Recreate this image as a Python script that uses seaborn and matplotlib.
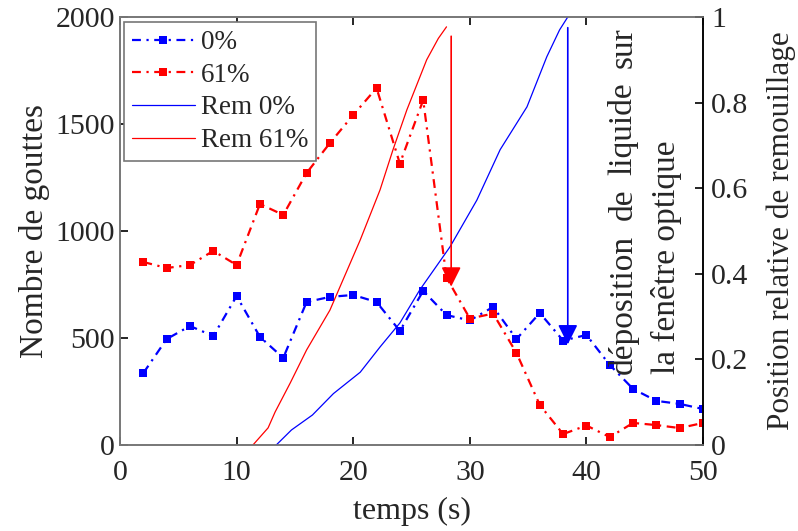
import numpy as np
import pandas as pd
import seaborn as sns
import matplotlib
matplotlib.use("Agg")
import matplotlib.pyplot as plt

# data
temps = [2, 4, 6, 8, 10, 12, 14, 16, 18, 20, 22, 24, 26, 28, 30, 32, 34, 36, 38, 40, 42, 44, 46, 48, 50]
gouttes_0 = [336, 495, 556, 509, 696, 505, 407, 668, 692, 701, 668, 533, 720, 607, 582, 645, 495, 617, 488, 514, 374, 262, 206, 192, 168]
gouttes_61 = [855, 827, 841, 907, 841, 1126, 1075, 1271, 1411, 1542, 1668, 1315, 1612, 782, 591, 614, 430, 187, 51, 91, 37, 103, 93, 79, 103]

rem0_t = [13.4, 14.7, 16.5, 18.3, 20.6, 22.3, 24.0, 25.7, 28.3, 30.6, 32.6, 34.9, 36.6, 37.7, 38.4]
rem0_pos = [0.0, 0.035, 0.07, 0.12, 0.17, 0.229, 0.285, 0.362, 0.463, 0.572, 0.69, 0.79, 0.907, 0.97, 1.0]
rem61_t = [11.4, 12.7, 13.3, 14.6, 16.0, 18.0, 20.6, 22.3, 23.4, 24.6, 26.3, 27.3, 28.0]
rem61_pos = [0.0, 0.04, 0.077, 0.145, 0.222, 0.315, 0.479, 0.596, 0.689, 0.783, 0.90, 0.95, 0.977]

# arrows: time, start (right axis), end (right axis)
arrow_0 = (38.4, 0.975, 0.235)
arrow_61 = (28.4, 0.955, 0.37)

note_line1 = ["déposition", "de", "liquide", "sur"]
note_line2 = "la fenêtre optique"

sns.set_theme(style="ticks")
plt.rcParams['font.family'] = ['Liberation Serif', 'DejaVu Serif']
plt.rcParams['xtick.direction'] = 'in'
plt.rcParams['ytick.direction'] = 'in'

fig = plt.figure(figsize=(7.98, 5.31), dpi=100)
ax = fig.add_axes([0.1504, 0.162, 0.7306, 0.806])
ax2 = ax.twinx()

dash = (4, 2.5, 1, 2.5)
df = pd.DataFrame({"t": temps, "g0": gouttes_0, "g61": gouttes_61})
sns.lineplot(data=df, x="t", y="g0", ax=ax, color="blue", marker="s", markersize=6,
             markeredgewidth=0, lw=1.6, dashes=False, label="0%")
sns.lineplot(data=df, x="t", y="g61", ax=ax, color="red", marker="s", markersize=6,
             markeredgewidth=0, lw=1.6, dashes=False, label="61%")
for ln in ax.lines:
    ln.set_dashes(dash)

sns.lineplot(x=rem0_t, y=rem0_pos, ax=ax2, color="blue", lw=0.9, label="Rem 0%", sort=False)
sns.lineplot(x=rem61_t, y=rem61_pos, ax=ax2, color="red", lw=0.9, label="Rem 61%", sort=False)

for (tx, y0, y1), c in [(arrow_61, "red"), (arrow_0, "blue")]:
    ax2.annotate("", xy=(tx, y1), xytext=(tx, y0),
                 arrowprops=dict(arrowstyle="-|>,head_length=0.6,head_width=0.3",
                                 color=c, lw=1.2, mutation_scale=20, shrinkA=0, shrinkB=0))

ax.set_xlim(0, 50)
ax.set_ylim(0, 2000)
ax2.set_ylim(0, 1)
ax.set_xticks([0, 10, 20, 30, 40, 50])
ax.set_yticks([0, 500, 1000, 1500, 2000])
ax2.set_yticks([0, 0.2, 0.4, 0.6, 0.8, 1])
ax2.set_yticklabels(["0", "0.2", "0.4", "0.6", "0.8", "1"])

ax.tick_params(axis="both", labelsize=21.5, length=6, width=1.2, color="black", top=True)
ax.tick_params(axis="x", pad=11)
ax2.tick_params(axis="y", labelsize=21.5, length=6, width=1.2, color="black", pad=6)
ax.set_xlabel("temps (s)", fontsize=23, labelpad=8)
ax.set_ylabel("Nombre de gouttes", fontsize=24, labelpad=4)
ax2.set_ylabel("Position relative de remouillage", fontsize=22.5, labelpad=13)

for sp in ["left", "bottom", "top"]:
    ax.spines[sp].set_color("#777777")
    ax2.spines[sp].set_color("#777777")
ax2.spines["right"].set_color("black")
for sp in ax.spines.values():
    sp.set_linewidth(1.2)
for sp in ax2.spines.values():
    sp.set_linewidth(1.2)

# justified rotated note: first line spread between bottom and top, second line plain
bot, top = 0.167, 0.975
words = [ax.text(0.863, bot, w, rotation=90, ha="center", va="bottom", fontsize=24,
                 transform=ax.transAxes) for w in note_line1]
ax.text(0.938, bot, note_line2, rotation=90, ha="center", va="bottom", fontsize=24,
        transform=ax.transAxes)
renderer = fig.canvas.get_renderer()
ax_h = ax.get_window_extent(renderer).height
sizes = [t.get_window_extent(renderer).height / ax_h for t in words]
gap = (top - bot - sum(sizes)) / (len(words) - 1)
pos = bot
for t, s in zip(words, sizes):
    t.set_y(pos)
    pos += s + gap

h1, l1 = ax.get_legend_handles_labels()
h2, l2 = ax2.get_legend_handles_labels()
ax.get_legend().remove()
ax2.get_legend().remove()
leg = ax2.legend(h1 + h2, l1 + l2, loc="upper left", bbox_to_anchor=(0.006, 0.988),
                 fontsize=19.5, frameon=True, fancybox=False, edgecolor="#777777",
                 framealpha=1, handlelength=2.35, handletextpad=0.2, labelspacing=0.28,
                 borderpad=0.3, borderaxespad=0.0, numpoints=1)
leg.get_frame().set_linewidth(1.2)
for ln in leg.get_lines()[:2]:
    ln.set_dashes(dash)

fig.savefig("out.png", dpi=100)
